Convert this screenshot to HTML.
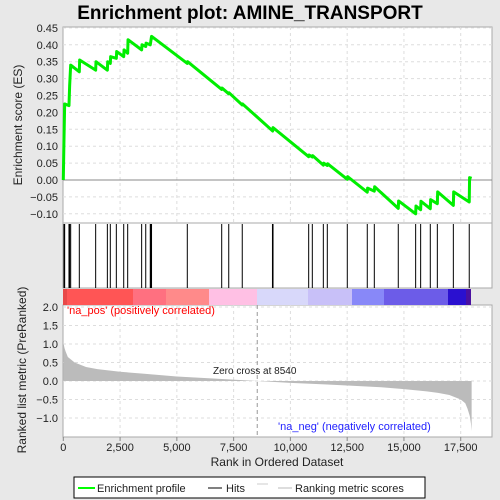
<!DOCTYPE html>
<html><head><meta charset="utf-8"><style>
body{margin:0;background:#e8e8e8;}
svg{display:block;font-family:"Liberation Sans",sans-serif;}
</style></head><body>
<svg id="c" width="500" height="500">
<text x="250" y="19" text-anchor="middle" font-size="19" font-weight="bold" fill="#000">Enrichment plot: AMINE_TRANSPORT</text>
<rect x="63" y="27" width="429" height="196" fill="#fff" stroke="#aaa"/>
<rect x="63" y="223" width="429" height="65" fill="#fff" stroke="#aaa"/>
<rect x="63" y="305" width="429" height="132" fill="#fff" stroke="#aaa"/>
<g id="grid"></g><g id="bar"></g><g id="hits"></g><g id="metric"></g><g id="es"></g><g id="axes"></g>
<text x="67" y="314" font-size="11" fill="#f00">'na_pos' (positively correlated)</text>
<text x="278" y="430" font-size="11" fill="#22f">'na_neg' (negatively correlated)</text>
<text x="213" y="374" font-size="10" fill="#222">Zero cross at 8540</text>
<text x="22" y="125" font-size="12" fill="#222" text-anchor="middle" transform="rotate(-90 22 125)">Enrichment score (ES)</text>
<text x="26" y="370" font-size="12" fill="#222" text-anchor="middle" transform="rotate(-90 26 370)">Ranked list metric (PreRanked)</text>
<text x="277" y="466" font-size="12" fill="#222" text-anchor="middle">Rank in Ordered Dataset</text>
<g>
<rect x="74" y="477" width="351" height="21" fill="#fff" stroke="#000"/>
<line x1="78" y1="488" x2="95" y2="488" stroke="#0f0" stroke-width="2"/>
<text x="97" y="492" font-size="11" fill="#222">Enrichment profile</text>
<line x1="208" y1="488" x2="222" y2="488" stroke="#000"/>
<text x="226" y="492" font-size="11" fill="#222">Hits</text>
<line x1="257" y1="484" x2="268" y2="484" stroke="#ccc"/>
<line x1="278" y1="488" x2="292" y2="488" stroke="#bbb"/>
<text x="295" y="492" font-size="11" fill="#222">Ranking metric scores</text>
</g>
</svg>
<script>
const esRanks=[0,30,60,250,280,325,705,720,1425,1440,1940,1955,2070,2085,2335,2350,2660,2675,2835,2850,3450,3465,3630,3645,3830,3885,5460,5475,6975,6990,7285,7300,7880,7895,9220,9235,10805,10820,10965,10980,11450,11465,11625,11640,12505,12520,13385,13400,13695,13710,14750,14765,15515,15530,15735,15750,16160,16175,16470,16485,17175,17190,17875,17890,17980];
const esValues=[0,0.12,0.225,0.22,0.28,0.34,0.32,0.355,0.325,0.35,0.325,0.35,0.345,0.365,0.36,0.38,0.365,0.385,0.375,0.415,0.385,0.40,0.395,0.405,0.40,0.425,0.345,0.35,0.268,0.272,0.255,0.258,0.222,0.225,0.145,0.155,0.069,0.074,0.068,0.072,0.044,0.05,0.043,0.048,0.002,0.01,-0.036,-0.024,-0.033,-0.02,-0.084,-0.062,-0.10,-0.077,-0.088,-0.063,-0.085,-0.058,-0.07,-0.035,-0.075,-0.035,-0.065,0.007,0.005];
const hitRanks=[30,60,250,280,325,705,1425,1940,2070,2335,2660,2835,3450,3630,3830,3860,3885,5460,6975,7285,7880,9210,9235,10805,10965,11450,11625,12505,13385,13695,14750,15515,15735,16160,16470,17175,17875];
const metricRanks=[0,50,100,200,500,1000,1500,2500,3500,5000,6500,8540,10000,11500,12500,14000,15000,16000,16500,17000,17500,17700,17800,17900,17950,17980];
const metricValues=[1.05,0.9,0.8,0.65,0.5,0.38,0.32,0.25,0.2,0.12,0.07,0,-0.05,-0.09,-0.12,-0.17,-0.22,-0.28,-0.32,-0.38,-0.5,-0.6,-0.75,-0.95,-1.15,-1.35];
const esTicks=[0.45,0.40,0.35,0.30,0.25,0.20,0.15,0.10,0.05,0.00,-0.05,-0.10];
const metricTicks=[2.0,1.5,1.0,0.5,0.0,-0.5,-1.0];
const xTicks=[0,2500,5000,7500,10000,12500,15000,17500];
const N=17980;
const sx=r=>63.3+r*0.02271;
const sy=v=>180-v*338;
const my=v=>381-v*37;
const NS='http://www.w3.org/2000/svg';
function mk(tag,parent,attrs){const e=document.createElementNS(NS,tag);for(const k in attrs)e.setAttribute(k,attrs[k]);document.getElementById(parent).appendChild(e);return e;}
// grid
xTicks.forEach(t=>{if(t===0)return;
 const g1=mk('line','grid',{x1:sx(t),x2:sx(t),y1:27,y2:223,stroke:'#ddd','stroke-dasharray':'3,3'});
 
 
 const g2=mk('line','grid',{x1:sx(t),x2:sx(t),y1:305,y2:437,stroke:'#ddd','stroke-dasharray':'3,3'});
 
 
});
esTicks.forEach(t=>{
 const g=mk('line','grid',{x1:63,x2:492,y1:sy(t),y2:sy(t),stroke:t===0?'#888':'#ddd','stroke-dasharray':t===0?'':'3,3'});
 
 
 const l=mk('text','axes',{x:58,y:sy(t)+4,'text-anchor':'end','font-size':11,fill:'#222'});
 l.textContent=t.toFixed(2).replace('-','−');
 
 
});
metricTicks.forEach(t=>{
 const g=mk('line','grid',{x1:63,x2:492,y1:my(t),y2:my(t),stroke:'#ddd','stroke-dasharray':'3,3'});
 
 
 const l=mk('text','axes',{x:58,y:my(t)+4,'text-anchor':'end','font-size':11,fill:'#222'});
 l.textContent=t.toFixed(1).replace('-','−');
 
 
});
xTicks.forEach(t=>{
 const l=mk('text','axes',{x:sx(t),y:451,'text-anchor':'middle','font-size':11,fill:'#222'});
 l.textContent=t.toLocaleString('en-US');
 
 
 const tk=mk('line','axes',{x1:sx(t),x2:sx(t),y1:437,y2:441,stroke:'#888'});
 
 
});
// color bar
const segs=[[63,67,'#e84848'],[67,133,'#ff5555'],[133,166,'#ff7080'],[166,209,'#ff8a8a'],[209,257,'#ffc0e4'],[257,308,'#d8d8fa'],[308,352,'#c8c0f8'],[352,384,'#8888f8'],[384,448,'#6c5ce8'],[448,466,'#2a10d0'],[466,471,'#4a10a0']];
segs.forEach(s=>{const r=mk('rect','bar',{x:s[0],y:289,width:s[1]-s[0],height:16,fill:s[2]});
 
 });
// hits
hitRanks.forEach(r=>{const l=mk('line','hits',{x1:sx(r),x2:sx(r),y1:224,y2:288,stroke:'#000','stroke-width':1});
 
 });
// metric area
let d='M'+sx(0)+','+my(0);
metricRanks.forEach((r,i)=>{d+=' L'+sx(r)+','+my(metricValues[i]);});
d+=' L'+sx(N)+','+my(0)+' Z';
const ma=mk('path','metric',{d:d,fill:'#bbb',stroke:'none'});


const zc=mk('line','metric',{x1:sx(8540),x2:sx(8540),y1:305,y2:437,stroke:'#999','stroke-dasharray':'4,3'});


// ES line
const pts=esRanks.map((r,i)=>sx(r)+','+sy(esValues[i])).join(' ');
const pl=mk('polyline','es',{points:pts,fill:'none',stroke:'#00ee00','stroke-width':3,'stroke-linejoin':'round'});


</script>
</body></html>
